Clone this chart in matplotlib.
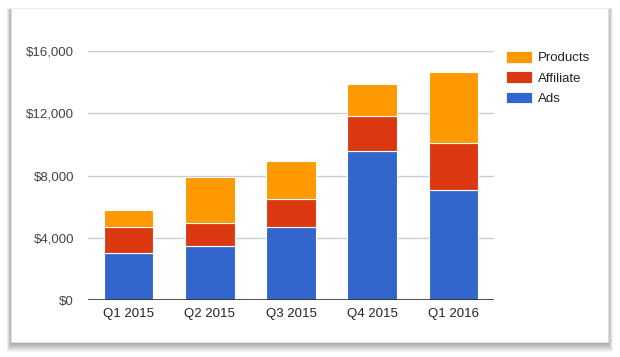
#!/usr/bin/env python3
# -*- coding: utf-8 -*-

import numpy as np
import matplotlib
matplotlib.use('Agg')
import matplotlib.pyplot as plt
from matplotlib.patches import Rectangle, Patch
from matplotlib.ticker import FuncFormatter

# Data
quarters = ['Q1 2015', 'Q2 2015', 'Q3 2015', 'Q4 2015', 'Q1 2016']
ads = [3050, 3500, 4700, 9600, 7100]
affiliate = [1650, 1470, 1800, 2250, 2970]
products = [1100, 2910, 2430, 2010, 4580]
yticks = [0, 4000, 8000, 12000, 16000]

colors = {'Ads': '#3366cc', 'Affiliate': '#dc3912', 'Products': '#ff9900'}

W, H = 620, 357
plt.rcParams['font.family'] = ['Liberation Sans', 'DejaVu Sans']

fig = plt.figure(figsize=(W / 100, H / 100), dpi=100)
fig.patch.set_facecolor('white')


def px_rect(x0, y0, x1, y1, **kw):
    """Rectangle in figure pixels, y measured from the top."""
    return Rectangle((x0 / W, 1 - y1 / H), (x1 - x0) / W, (y1 - y0) / H,
                     transform=fig.transFigure, **kw)


# card with a soft drop shadow (heavier along the bottom)
card = (11, 8, 608, 342)
for i in range(1, 10):
    fig.patches.append(px_rect(card[0] - i * 0.45, card[1] - i * 0.2 + 2,
                               card[2] + i * 0.55, card[3] + i * 1.0 + 1,
                               facecolor='black', edgecolor='none',
                               alpha=0.04, zorder=0))
fig.patches.append(px_rect(*card, facecolor='white', edgecolor='#e8e8e8',
                           linewidth=0.5, zorder=1))

# plot area
left, right, top, bottom = 88, 494, 51, 300
ax = fig.add_axes([left / W, 1 - bottom / H, (right - left) / W, (bottom - top) / H])
ax.set_facecolor('none')
ax.set_zorder(2)

x = np.arange(len(quarters))
ads = np.array(ads)
affiliate = np.array(affiliate)
products = np.array(products)

bw = 0.61
ax.bar(x, ads, bw, color=colors['Ads'], edgecolor='white', linewidth=0.8, zorder=3)
ax.bar(x, affiliate, bw, bottom=ads, color=colors['Affiliate'],
       edgecolor='white', linewidth=0.8, zorder=3)
ax.bar(x, products, bw, bottom=ads + affiliate, color=colors['Products'],
       edgecolor='white', linewidth=0.8, zorder=3)

ax.set_xlim(-0.5, len(quarters) - 0.5)
ax.set_ylim(0, 16000)
ax.set_yticks(yticks)
ax.yaxis.set_major_formatter(FuncFormatter(lambda v, p: '${:,.0f}'.format(v)))
ax.set_xticks(x)
ax.set_xticklabels(quarters)

ax.grid(axis='y', color='#cccccc', linewidth=1, zorder=0)
ax.set_axisbelow(True)
ax.axhline(0, color='#333333', linewidth=1.2, zorder=4)
for s in ax.spines.values():
    s.set_visible(False)
ax.tick_params(axis='y', length=0, pad=10, labelsize=9.5, labelcolor='#444444')
ax.tick_params(axis='x', length=0, pad=6, labelsize=9.5, labelcolor='#222222')

# legend, top entry first
handles = [Patch(facecolor=colors[k], edgecolor='white', linewidth=0.6)
           for k in ['Products', 'Affiliate', 'Ads']]
leg = fig.legend(handles, ['Products', 'Affiliate', 'Ads'],
                 loc='upper left', bbox_to_anchor=(506 / W, 1 - 51 / H),
                 frameon=False, borderpad=0, borderaxespad=0,
                 handlelength=2.0, handleheight=1.0, handletextpad=0.45,
                 labelspacing=0.52, fontsize=9.5, labelcolor='#222222')
leg.set_zorder(3)

fig.savefig('out.png', dpi=100, facecolor='white')
